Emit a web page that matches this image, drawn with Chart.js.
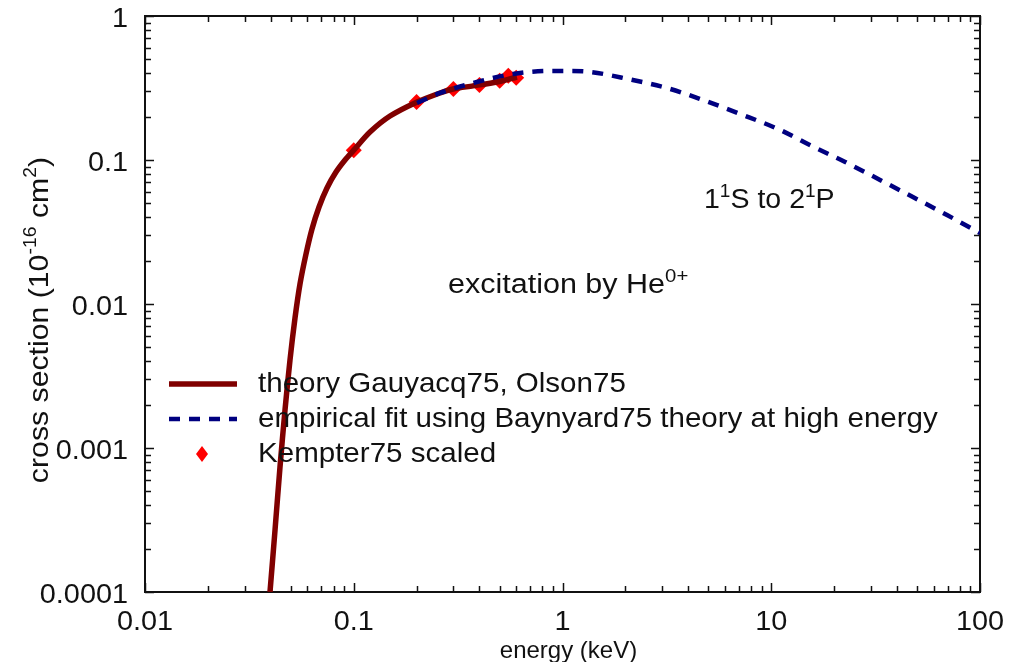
<!DOCTYPE html>
<html lang="en">
<head>
<meta charset="UTF-8">
<title>excitation by He0+</title>
<script src="https://cdn.jsdelivr.net/npm/chart.js"></script>
<style>
  html, body { margin: 0; padding: 0; background: #fff; }
</style>
</head>
<body>
<canvas id="myChart" width="1015" height="662"></canvas>
<script>
// theory Gauyacq75, Olson75 (energy keV, cross section 1e-16 cm2)
const theoryE = [0.0397, 0.04197, 0.04433, 0.04685, 0.0495, 0.05232, 0.05527, 0.05906, 0.0631, 0.06818, 0.07444, 0.08222, 0.09082, 0.1, 0.1196, 0.1492, 0.2, 0.259, 0.299, 0.373, 0.486, 0.605];
const theoryS = [0.0001, 0.00027, 0.000738, 0.001836, 0.00408, 0.008, 0.01377, 0.02224, 0.03319, 0.04718, 0.06394, 0.08251, 0.1, 0.117, 0.1564, 0.202, 0.252, 0.292, 0.311, 0.327, 0.348, 0.377];

// empirical fit using Baynyard75 theory at high energy
const fitE = [0.201, 0.259, 0.389, 0.579, 0.871, 1.087, 1.355, 2.06, 3.17, 4.71, 7.08, 11.0, 15.3, 22.6, 33.2, 47.7, 69.5, 100];
const fitS = [0.249, 0.292, 0.348, 0.396, 0.415, 0.415, 0.409, 0.365, 0.316, 0.261, 0.209, 0.162, 0.127, 0.0969, 0.0727, 0.0553, 0.0415, 0.0311];

// Kempter75 scaled
const kempE = [0.1, 0.2, 0.3, 0.4, 0.5, 0.55, 0.6];
const kempS = [0.117, 0.253, 0.311, 0.332, 0.355, 0.385, 0.372];

const xTicks = [0.01, 0.1, 1, 10, 100];
const xTickLabels = ['0.01', '0.1', '1', '10', '100'];
const yTicks = [0.0001, 0.001, 0.01, 0.1, 1];
const yTickLabels = ['0.0001', '0.001', '0.01', '0.1', '1'];

const FONT = '"Liberation Sans", Arial, sans-serif';

function pts(xs, ys) {
    return xs.map((v, i) => ({ x: v, y: ys[i] }));
}

// plain text, stretched a little horizontally like the original
function textAt(ctx, str, x, y, size, sx, align) {
    ctx.font = size + 'px ' + FONT;
    let w = ctx.measureText(str).width * sx;
    let x0 = align === 'center' ? x - w / 2 : align === 'right' ? x - w : x;
    ctx.save();
    ctx.translate(x0, y);
    ctx.scale(sx, 1);
    ctx.textAlign = 'left';
    ctx.fillText(str, 0, 0);
    ctx.restore();
}

// text with superscript runs: parts = [[text, isSup], ...]
function drawRich(ctx, parts, x, y, size, sx, align) {
    let w = 0;
    parts.forEach(p => {
        ctx.font = (p[1] ? Math.round(size * 0.65) : size) + 'px ' + FONT;
        w += ctx.measureText(p[0]).width;
    });
    ctx.save();
    ctx.translate(align === 'center' ? x - w * sx / 2 : x, y);
    ctx.scale(sx, 1);
    ctx.textBaseline = 'alphabetic';
    ctx.textAlign = 'left';
    let cx = 0;
    parts.forEach(p => {
        let s = p[1] ? Math.round(size * 0.65) : size;
        ctx.font = s + 'px ' + FONT;
        ctx.fillText(p[0], cx, p[1] ? -size * 0.42 : 0);
        cx += ctx.measureText(p[0]).width;
    });
    ctx.restore();
}

const framePlugin = {
    id: 'frame',
    beforeDatasetsDraw(chart) {
        const ctx = chart.ctx;
        const a = chart.chartArea;
        const xs = chart.scales.x, ys = chart.scales.y;
        ctx.save();
        ctx.strokeStyle = '#111';
        ctx.lineWidth = 1.5;
        ctx.beginPath();
        // x ticks (inward, top and bottom)
        for (let d = -2; d <= 2; d++) {
            for (let m = 1; m <= 9; m++) {
                let v = m * Math.pow(10, d);
                if (v > 100.0001) break;
                let px = Math.round(xs.getPixelForValue(v)) + 0.5;
                let len = m === 1 ? 9 : 6;
                ctx.moveTo(px, a.bottom); ctx.lineTo(px, a.bottom - len);
                ctx.moveTo(px, a.top); ctx.lineTo(px, a.top + len);
            }
        }
        // y ticks (inward, left and right)
        for (let d = -4; d <= 0; d++) {
            for (let m = 1; m <= 9; m++) {
                let v = m * Math.pow(10, d);
                if (v > 1.0001) break;
                let py = Math.round(ys.getPixelForValue(v)) + 0.5;
                let len = m === 1 ? 9 : 6;
                ctx.moveTo(a.left, py); ctx.lineTo(a.left + len, py);
                ctx.moveTo(a.right, py); ctx.lineTo(a.right - len, py);
            }
        }
        ctx.stroke();
        ctx.lineWidth = 2;
        ctx.strokeRect(a.left, a.top, a.right - a.left, a.bottom - a.top);

        // tick labels
        ctx.fillStyle = '#111';
        ctx.textBaseline = 'middle';
        xTicks.forEach((v, i) => {
            textAt(ctx, xTickLabels[i], xs.getPixelForValue(v), a.bottom + 30, 28, 1.03, 'center');
        });
        yTicks.forEach((v, i) => {
            textAt(ctx, yTickLabels[i], a.left - 17, ys.getPixelForValue(v) + 3, 28, 1.03, 'right');
        });

        // axis titles
        textAt(ctx, 'energy (keV)', (a.left + a.right) / 2 + 6, a.bottom + 59, 24, 1.0, 'center');
        ctx.save();
        ctx.translate(48, 320);
        ctx.rotate(-Math.PI / 2);
        drawRich(ctx, [['cross section (10', false], ['-16', true], [' cm', false], ['2', true], [')', false]], 0, 0, 28, 1.08, 'center');
        ctx.restore();
        ctx.restore();
    },
    afterDraw(chart) {
        const ctx = chart.ctx;
        ctx.save();
        ctx.fillStyle = '#111';
        drawRich(ctx, [['1', false], ['1', true], ['S to 2', false], ['1', true], ['P', false]], 704, 208, 27, 1.057, 'left');
        drawRich(ctx, [['excitation by He', false], ['0+', true]], 448, 293, 27, 1.13, 'left');

        // legend, same order as the original
        [1, 0, 2].forEach((k, i) => {
            const ds = chart.data.datasets[k];
            const y = 384 + i * 35;
            if (ds.showLine) {
                ctx.strokeStyle = ds.borderColor;
                ctx.lineWidth = ds.borderWidth;
                ctx.setLineDash(ds.borderDash || []);
                ctx.beginPath();
                ctx.moveTo(169, y); ctx.lineTo(237, y);
                ctx.stroke();
                ctx.setLineDash([]);
            } else {
                ctx.fillStyle = ds.backgroundColor;
                ctx.beginPath();
                ctx.moveTo(202, y - 8); ctx.lineTo(208, y); ctx.lineTo(202, y + 8); ctx.lineTo(196, y);
                ctx.closePath();
                ctx.fill();
            }
            ctx.fillStyle = '#111';
            ctx.textBaseline = 'middle';
            textAt(ctx, ds.label, 258, y, 28, 1.055, 'left');
        });
        ctx.restore();
    }
};

const ctx = document.getElementById('myChart');

new Chart(ctx, {
    type: 'scatter',
    data: {
        datasets: [
            {
                label: 'empirical fit using Baynyard75 theory at high energy',
                data: pts(fitE, fitS),
                showLine: true,
                borderColor: '#000080',
                borderWidth: 4.5,
                borderDash: [11, 9],
                pointRadius: 0,
                cubicInterpolationMode: 'monotone'
            },
            {
                label: 'theory Gauyacq75, Olson75',
                data: pts(theoryE, theoryS),
                showLine: true,
                borderColor: '#800000',
                borderWidth: 5.5,
                pointRadius: 0,
                tension: 0.3
            },
            {
                label: 'Kempter75 scaled',
                data: pts(kempE, kempS),
                showLine: false,
                pointStyle: 'rectRot',
                pointRadius: 8,
                borderWidth: 0,
                backgroundColor: '#ff0000',
                borderColor: '#ff0000'
            }
        ]
    },
    options: {
        responsive: false,
        animation: false,
        devicePixelRatio: 1,
        layout: { padding: { top: 16, right: 35, left: 0, bottom: 0 } },
        plugins: {
            legend: { display: false },
            tooltip: { enabled: false }
        },
        scales: {
            x: {
                type: 'logarithmic',
                min: 0.01,
                max: 100,
                ticks: { display: false },
                grid: { display: false },
                border: { display: false },
                afterFit(s) { s.height = 70; }
            },
            y: {
                type: 'logarithmic',
                min: 0.0001,
                max: 1,
                ticks: { display: false },
                grid: { display: false },
                border: { display: false },
                afterFit(s) { s.width = 145; }
            }
        }
    },
    plugins: [framePlugin]
});
</script>
</body>
</html>
